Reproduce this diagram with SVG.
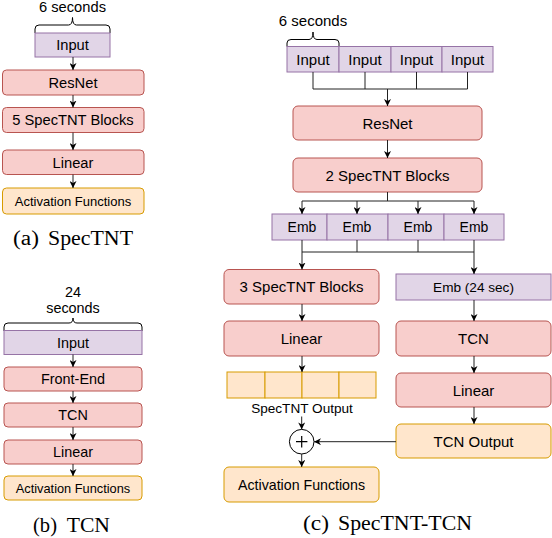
<svg xmlns="http://www.w3.org/2000/svg" width="552" height="538" viewBox="0 0 552 538">
<style>
.t{font-family:"Liberation Sans",Arial,sans-serif;fill:#000;text-anchor:middle}
.cap{font-family:"Liberation Serif","Times New Roman",serif;fill:#000;font-size:20px}
.p{fill:#e1d5e7;stroke:#9673a6;stroke-width:1}
.r{fill:#f8cecc;stroke:#b85450;stroke-width:1}
.o{fill:#ffe6cc;stroke:#d79b00;stroke-width:1}
.ln{fill:none;stroke:#222;stroke-width:1}
.ar{fill:none;stroke:#222;stroke-width:1;marker-end:url(#ah)}
.br{fill:none;stroke:#000;stroke-width:1}
</style>
<defs>
<marker id="ah" viewBox="0 0 10 10" refX="10" refY="5" markerWidth="7" markerHeight="7" markerUnits="userSpaceOnUse" orient="auto">
<path d="M0,0 L10,5 L0,10 L3,5 Z" fill="#000"/>
</marker>
</defs>

<!-- Panel (a) -->
<g id="a-label">
<text class="t" x="72.5" y="11.5" font-size="14.7">6 seconds</text>
<path class="br" d="M35,33 L35,29 Q35,25 39,25 L68.5,25 Q72.5,25 72.5,17.5 Q72.5,25 76.5,25 L106,25 Q110,25 110,29 L110,33"/>
</g>
<g id="a-input"><rect class="p" x="35" y="33" width="75" height="24"/><text class="t" x="72.5" y="50.3" font-size="14.7">Input</text></g>
<g id="a-resnet"><rect class="r" x="2.5" y="70" width="141.5" height="25" rx="4"/><text class="t" x="73" y="87.8" font-size="14.7">ResNet</text></g>
<g id="a-spectnt"><rect class="r" x="2.5" y="107.5" width="141.5" height="25" rx="4"/><text class="t" x="73" y="125.3" font-size="14.7">5 SpecTNT Blocks</text></g>
<g id="a-linear"><rect class="r" x="2.5" y="150" width="141.5" height="24.5" rx="4"/><text class="t" x="73" y="167.5" font-size="14.7">Linear</text></g>
<g id="a-act"><rect class="o" x="2.5" y="188" width="141.5" height="26" rx="4"/><text class="t" x="73" y="205.5" font-size="13">Activation Functions</text></g>
<text class="cap" y="245"><tspan x="13" textLength="26" lengthAdjust="spacingAndGlyphs">(a)</tspan><tspan x="48" textLength="85" lengthAdjust="spacingAndGlyphs">SpecTNT</tspan></text>

<!-- Panel (b) -->
<g id="b-label">
<text class="t" x="73" y="297" font-size="14.4">24</text>
<text class="t" x="73" y="313" font-size="14.4">seconds</text>
<path class="br" d="M4,331 L4,327 Q4,323 8,323 L69,323 Q73,323 73,318 Q73,323 77,323 L138,323 Q142,323 142,327 L142,331"/>
</g>
<g id="b-input"><rect class="p" x="4" y="330.5" width="138" height="24"/><text class="t" x="73" y="347.8" font-size="14.4">Input</text></g>
<g id="b-frontend"><rect class="r" x="4" y="367" width="138" height="24" rx="4"/><text class="t" x="73" y="384.3" font-size="14.4">Front-End</text></g>
<g id="b-tcn"><rect class="r" x="4" y="403" width="138" height="24" rx="4"/><text class="t" x="73" y="420.3" font-size="14.4">TCN</text></g>
<g id="b-linear"><rect class="r" x="4" y="440" width="138" height="24" rx="4"/><text class="t" x="73" y="457.3" font-size="14.4">Linear</text></g>
<g id="b-act"><rect class="o" x="4" y="476" width="138" height="24" rx="4"/><text class="t" x="73" y="492.8" font-size="12.8">Activation Functions</text></g>
<text class="cap" y="532"><tspan x="33" textLength="24" lengthAdjust="spacingAndGlyphs">(b)</tspan><tspan x="66.7" textLength="43.3" lengthAdjust="spacingAndGlyphs">TCN</tspan></text>

<!-- Panel (c) -->
<g id="c-label">
<text class="t" x="313" y="26" font-size="15">6 seconds</text>
<path class="br" d="M287,46.5 L287,43 Q287,39.5 291,39.5 L309,39.5 Q313,39.5 313,32 Q313,39.5 317,39.5 L335,39.5 Q339,39.5 339,43 L339,46.5"/>
</g>
<g id="c-input">
<rect class="p" x="287" y="46.5" width="52" height="25.5"/>
<rect class="p" x="339" y="46.5" width="52" height="25.5"/>
<rect class="p" x="391" y="46.5" width="51" height="25.5"/>
<rect class="p" x="442" y="46.5" width="51" height="25.5"/>
<text class="t" x="313" y="64.5" font-size="15">Input</text>
<text class="t" x="365" y="64.5" font-size="15">Input</text>
<text class="t" x="416.5" y="64.5" font-size="15">Input</text>
<text class="t" x="467.5" y="64.5" font-size="15">Input</text>
</g>
<g id="c-resnet"><rect class="r" x="293" y="106" width="189" height="34" rx="5"/><text class="t" x="387.5" y="128.5" font-size="15">ResNet</text></g>
<g id="c-spectnt2"><rect class="r" x="293" y="158" width="189" height="34" rx="5"/><text class="t" x="387.5" y="180.5" font-size="15">2 SpecTNT Blocks</text></g>
<g id="c-emb">
<rect class="p" x="272" y="214" width="55" height="26"/>
<rect class="p" x="327" y="214" width="61" height="26"/>
<rect class="p" x="388" y="214" width="56" height="26"/>
<rect class="p" x="444" y="214" width="60" height="26"/>
<text class="t" x="302" y="232" font-size="14">Emb</text>
<text class="t" x="357" y="232" font-size="14">Emb</text>
<text class="t" x="418" y="232" font-size="14">Emb</text>
<text class="t" x="474" y="232" font-size="14">Emb</text>
</g>
<g id="c-spectnt3"><rect class="r" x="224" y="269.5" width="155" height="34.5" rx="5"/><text class="t" x="301.5" y="292" font-size="15">3 SpecTNT Blocks</text></g>
<g id="c-emb24"><rect class="p" x="396" y="274" width="155" height="26"/><text class="t" x="473.5" y="291.8" font-size="13.6">Emb (24 sec)</text></g>
<g id="c-linear1"><rect class="r" x="224" y="321" width="155" height="35" rx="5"/><text class="t" x="301.5" y="343.8" font-size="15">Linear</text></g>
<g id="c-tcn"><rect class="r" x="396" y="321" width="155" height="35" rx="5"/><text class="t" x="473.5" y="343.8" font-size="15">TCN</text></g>
<g id="c-specout">
<rect class="o" x="227" y="372" width="38" height="26"/>
<rect class="o" x="265" y="372" width="37" height="26"/>
<rect class="o" x="302" y="372" width="37" height="26"/>
<rect class="o" x="339" y="372" width="37" height="26"/>
<text class="t" x="302" y="412.5" font-size="13.6">SpecTNT Output</text>
</g>
<g id="c-linear2"><rect class="r" x="396" y="373" width="155" height="34" rx="5"/><text class="t" x="473.5" y="395.5" font-size="15">Linear</text></g>
<g id="c-tcnout"><rect class="o" x="396" y="424" width="155" height="34" rx="5"/><text class="t" x="473.5" y="446.5" font-size="15">TCN Output</text></g>
<g id="c-plus">
<circle cx="301.7" cy="441.7" r="12.3" fill="#fff" stroke="#000" stroke-width="1"/>
<path d="M296,441.7 H307.4 M301.7,436 V447.4" stroke="#000" stroke-width="1.2" fill="none"/>
</g>
<g id="c-act"><rect class="o" x="224" y="467" width="155" height="35" rx="5"/><text class="t" x="301.5" y="490" font-size="14.2">Activation Functions</text></g>
<text class="cap" y="530"><tspan x="303" textLength="26" lengthAdjust="spacingAndGlyphs">(c)</tspan><tspan x="338" textLength="134" lengthAdjust="spacingAndGlyphs">SpecTNT-TCN</tspan></text>

<!-- Connectors -->
<g id="connectors">
<line class="ar" x1="73" y1="57" x2="73" y2="70"/>
<line class="ar" x1="73" y1="95" x2="73" y2="107.5"/>
<line class="ar" x1="73" y1="132.5" x2="73" y2="150"/>
<line class="ar" x1="73" y1="174.5" x2="73" y2="188"/>

<line class="ar" x1="73" y1="354.5" x2="73" y2="367"/>
<line class="ar" x1="73" y1="391" x2="73" y2="403"/>
<line class="ar" x1="73" y1="427" x2="73" y2="440"/>
<line class="ar" x1="73" y1="464" x2="73" y2="476"/>

<path class="ln" d="M313,72 V89 M365,72 V89 M416.5,72 V89 M467.5,72 V89 M313,89 H467.5"/>
<line class="ar" x1="387.5" y1="89" x2="387.5" y2="106" stroke-width="1.4"/>
<line class="ar" x1="387.5" y1="140" x2="387.5" y2="158"/>
<path class="ln" d="M387.5,192 V201 M302,201 H474"/>
<line class="ar" x1="302" y1="201" x2="302" y2="214"/>
<line class="ar" x1="357" y1="201" x2="357" y2="214"/>
<line class="ar" x1="418" y1="201" x2="418" y2="214"/>
<line class="ar" x1="474" y1="201" x2="474" y2="214"/>
<path class="ln" d="M302,240 V252 M357,240 V252 M418,240 V252 M474,240 V252 M302,252 H474"/>
<line class="ar" x1="302" y1="252" x2="302" y2="269.5"/>
<line class="ar" x1="474" y1="252" x2="474" y2="274"/>
<line class="ar" x1="302" y1="304" x2="302" y2="321"/>
<line class="ar" x1="474" y1="300" x2="474" y2="321"/>
<line class="ar" x1="302" y1="356" x2="302" y2="372"/>
<line class="ar" x1="474" y1="356" x2="474" y2="373"/>
<line class="ar" x1="474" y1="407" x2="474" y2="424"/>
<line class="ar" x1="301.7" y1="416.5" x2="301.7" y2="429.4"/>
<line class="ar" x1="396" y1="441.7" x2="314" y2="441.7"/>
<line class="ar" x1="301.7" y1="454" x2="301.7" y2="467"/>
</g>
</svg>
